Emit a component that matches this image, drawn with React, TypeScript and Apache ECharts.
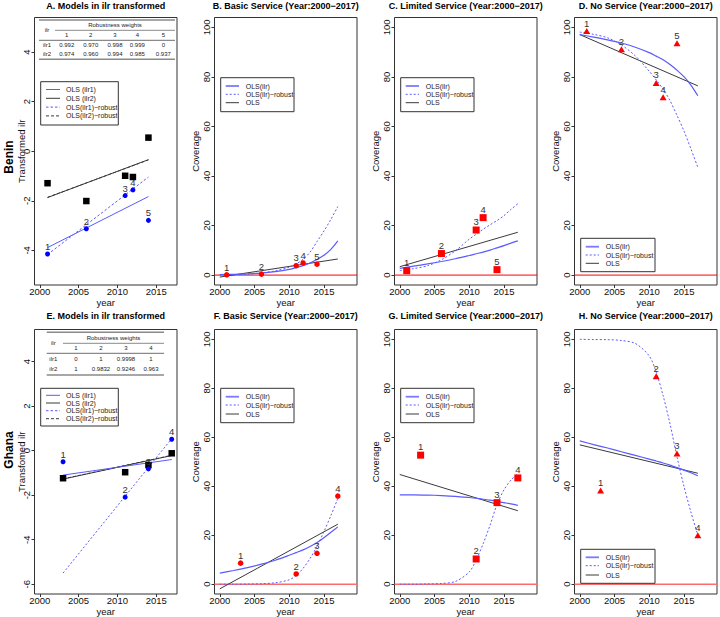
import React, { useEffect, useRef } from "react";
import * as echarts from "echarts";

// ---------------- data ----------------
const beninYears = [2001, 2006, 2011, 2012, 2014];
const ghanaYears = [2003, 2011, 2014, 2017];

const beninIlr1 = [-4.15, -3.13, -1.79, -1.56, -2.79];
const beninIlr2 = [-1.29, -2.01, -0.99, -1.04, 0.55];
const ghanaIlr1 = [-0.5, -2.09, -0.82, 0.51];
const ghanaIlr2 = [-1.24, -0.97, -0.65, -0.12];

const beninBasic = [0.1, 0.4, 3.8, 4.9, 4.4];
const beninLimited = [1.8, 8.7, 18.2, 23.2, 2.2];
const beninNone = [98.5, 91.2, 77.6, 71.8, 93.6];
const ghanaBasic = [8.6, 4.2, 12.6, 36.0];
const ghanaLimited = [52.7, 10.3, 33.3, 43.4];
const ghanaNone = [38.3, 84.9, 53.4, 20.0];

// fitted lines in ilr space (endpoints)
const beninFitYears = [2001, 2014];
const beninIlr1Ols = [-3.89, -1.83];
const beninIlr1Robust = [-4.17, -1.04];
const beninIlr2Ols = [-1.87, -0.34];
const beninIlr2Robust = [-1.86, -0.35];
const ghanaFitYears = [2003, 2017];
const ghanaIlr1Ols = [-1.1, -0.4];
const ghanaIlr1Robust = [-5.5, 0.54];
const ghanaIlr2Ols = [-1.28, -0.22];
const ghanaIlr2Robust = [-1.27, -0.21];

// back-transformed curves
const curveYears = [2000, 2002, 2004, 2006, 2008, 2010, 2011, 2012, 2013, 2014, 2015, 2016, 2017];
const beninBasicIlr = [0.2, 0.3, 0.5, 0.8, 1.4, 2.3, 3.0, 3.8, 4.9, 6.3, 8.0, 10.4, 13.8];
const beninBasicRobust = [0.1, 0.2, 0.4, 0.9, 1.7, 3.2, 4.5, 6.4, 9.3, 13.5, 17.8, 22.5, 27.7];
const beninLimitedIlr = [2.7, 3.6, 4.5, 5.5, 6.6, 7.9, 8.6, 9.3, 10.1, 11.0, 11.9, 12.9, 13.8];
const beninLimitedRobust = [1.8, 2.6, 3.8, 6.2, 9.8, 14.5, 16.5, 18.5, 20.3, 22.0, 24.0, 26.5, 28.8];
const beninNoneIlr = [97.1, 96.1, 95.0, 93.7, 92.0, 89.8, 88.4, 86.9, 85.0, 82.7, 80.1, 76.7, 72.4];
const beninNoneRobust = [98.1, 97.2, 95.8, 92.9, 88.5, 82.3, 78.8, 75.1, 70.4, 64.5, 58.2, 51.0, 43.5];
const ghanaBasicIlr = [4.5, 5.6, 6.8, 8.2, 9.8, 11.8, 12.9, 14.0, 15.4, 17.0, 19.0, 21.2, 23.4];
const ghanaBasicRobust = [0, 0, 0.05, 0.2, 0.6, 1.8, 3.5, 6.5, 10.5, 15.5, 21.5, 28.0, 35.0];
const ghanaLimitedIlr = [36.5, 36.5, 36.4, 36.2, 35.9, 35.4, 35.1, 34.7, 34.3, 33.8, 33.3, 32.8, 32.2];
const ghanaLimitedRobust = [0, 0, 0.1, 0.3, 1.1, 5.0, 9.9, 16.5, 24.1, 32.5, 38.5, 42.5, 45.0];
const ghanaNoneIlr = [58.5, 57.0, 55.6, 54.1, 52.6, 51.1, 50.3, 49.5, 48.6, 47.6, 46.6, 45.5, 44.3];
const ghanaNoneRobust = [100, 99.9, 99.85, 99.5, 98.3, 93.2, 86.6, 77.0, 65.4, 52.0, 40.0, 29.5, 20.0];

// straight OLS on coverage (endpoints)
const olsYears = [2000, 2017];
const beninBasicOls = [-0.8, 6.5];
const beninLimitedOls = [3.4, 17.3];
const beninNoneOls = [97.1, 76.4];
const ghanaBasicOls = [-1.9, 24.5];
const ghanaLimitedOls = [44.8, 30.0];
const ghanaNoneOls = [56.9, 45.3];

// ticks
const yearTicks = [2000, 2005, 2010, 2015];
const coverageTicks = [0, 20, 40, 60, 80, 100];
const beninIlrTicks = [-4, -2, 0, 2, 4];
const ghanaIlrTicks = [-6, -4, -2, 0, 2, 4];

// robustness weight tables
const beninWeightCols = ["1", "2", "3", "4", "5"];
const beninWeightsIlr1 = ["0.992", "0.970", "0.998", "0.999", "0"];
const beninWeightsIlr2 = ["0.974", "0.960", "0.994", "0.985", "0.937"];
const ghanaWeightCols = ["1", "2", "3", "4"];
const ghanaWeightsIlr1 = ["0", "1", "0.9998", "1"];
const ghanaWeightsIlr2 = ["1", "0.9832", "0.9246", "0.963"];

const titles = [
  "A. Models in ilr transformed",
  "B. Basic Service (Year:2000\u22122017)",
  "C. Limited Service (Year:2000\u22122017)",
  "D. No Service (Year:2000\u22122017)",
  "E. Models in ilr transformed",
  "F. Basic Service (Year:2000\u22122017)",
  "G. Limited Service (Year:2000\u22122017)",
  "H. No Service (Year:2000\u22122017)",
];
const ilrAxisTitles = ["Transformed ilr", "Transfomed ilr"];

// ---------------- layout helpers ----------------
const FONT = '"Liberation Sans", Arial, Helvetica, sans-serif';
const BLUE = "#0000ff";
const BLUE_LINE = "#5a5aff";
const DARK = "#3a3a3a";

function box(i: number) {
  const col = i % 4;
  const row = Math.floor(i / 4);
  return {
    left: 180 * col + 34.5,
    top: row === 0 ? 17.5 : 329.5,
    width: 142.5,
    height: row === 0 ? 267.5 : 266.5,
  };
}

const xRange = (i: number) => (i % 4 === 0 ? [1999.32, 2017.68] : [1999.24, 2019.76]);
const yRange = (i: number) => (i === 0 ? [-5.4, 5.4] : i === 4 ? [-6.44, 5.44] : [-4, 104]);
const yTicks = (i: number) => (i === 0 ? beninIlrTicks : i === 4 ? ghanaIlrTicks : coverageTicks);

const zip = (xs: number[], ys: number[]) => xs.map((x, k) => [x, ys[k]]);

function lineS(idx: number, xs: number[], ys: number[], color: string, width: number, type: any, smooth = false) {
  return {
    type: "line",
    xAxisIndex: idx,
    yAxisIndex: idx,
    data: zip(xs, ys),
    symbol: "none",
    showSymbol: false,
    smooth: smooth ? 0.3 : false,
    lineStyle: { color, width, type },
    silent: true,
    z: 2,
  };
}

function ptsS(idx: number, xs: number[], ys: number[], symbol: string, size: any, color: string, labelled = true) {
  return {
    type: "scatter",
    xAxisIndex: idx,
    yAxisIndex: idx,
    data: zip(xs, ys),
    symbol,
    symbolSize: size,
    itemStyle: { color, opacity: 1 },
    silent: true,
    z: 3,
    label: {
      show: labelled,
      position: "top",
      distance: 0,
      formatter: (p: any) => String(p.dataIndex + 1),
      fontSize: 9.5,
      color: "#333",
      fontFamily: FONT,
    },
  };
}

function zeroS(idx: number, color: string, width: number) {
  const xr = xRange(idx);
  return {
    type: "line",
    xAxisIndex: idx,
    yAxisIndex: idx,
    data: [[xr[0], 0], [xr[1], 0]],
    symbol: "none",
    showSymbol: false,
    lineStyle: { color, width, type: "solid" },
    silent: true,
    z: 1,
  };
}

function txt(x: number, y: number, text: string, size: number, opts: any = {}) {
  return {
    type: "text",
    x,
    y,
    rotation: opts.rotation || 0,
    silent: true,
    z: 100,
    style: {
      text,
      fill: opts.color || "#000",
      fontSize: size,
      fontWeight: opts.bold ? "bold" : "normal",
      fontFamily: FONT,
      align: opts.align || "center",
      verticalAlign: "middle",
      textAlign: opts.align || "center",
      textVerticalAlign: "middle",
    },
  };
}

function seg(x1: number, y1: number, x2: number, y2: number, stroke: string, lineWidth: number, dash?: number[]) {
  return {
    type: "line",
    silent: true,
    z: 100,
    shape: { x1, y1, x2, y2 },
    style: { stroke, lineWidth, lineDash: dash || null },
  };
}

type LegItem = { label: string; color: string; width: number; dash?: number[] };

function legend(x: number, y: number, w: number, h: number, rows: number[], lx1: number, lx2: number, tx: number, items: LegItem[]) {
  const els: any[] = [
    {
      type: "rect",
      silent: true,
      z: 99,
      shape: { x, y, width: w, height: h },
      style: { fill: "#fff", stroke: "#333", lineWidth: 1 },
    },
  ];
  items.forEach((it, k) => {
    els.push(seg(lx1, rows[k], lx2, rows[k], it.color, it.width, it.dash));
    els.push(txt(tx, rows[k], it.label, 7, { align: "left", color: "#222" }));
  });
  return els;
}

function table(
  x1: number,
  x2: number,
  hx1: number,
  ys: { top: number; head: number; mid: number; cols: number; rule: number; r1: number; r2: number; bottom: number },
  labelX: number,
  colX: number[],
  cols: string[],
  w1: string[],
  w2: string[]
) {
  const RULE = "#8a8a8a";
  const els: any[] = [
    seg(x1, ys.top, x2, ys.top, RULE, 1.5),
    seg(hx1, ys.mid, x2, ys.mid, RULE, 1),
    seg(x1, ys.rule, x2, ys.rule, RULE, 1.2),
    seg(x1, ys.bottom, x2, ys.bottom, RULE, 1.5),
    txt((hx1 + x2) / 2, ys.head, "Robustness weights", 6, { color: "#222" }),
    txt(labelX, (ys.head + ys.cols) / 2, "ilr", 6, { color: "#222" }),
    txt(labelX, ys.r1, "ilr1", 6, { color: "#222" }),
    txt(labelX, ys.r2, "ilr2", 6, { color: "#222" }),
  ];
  cols.forEach((c, k) => {
    els.push(txt(colX[k], ys.cols, c, 6, { color: "#222" }));
    els.push(txt(colX[k], ys.r1, w1[k], 6, { color: "#222" }));
    els.push(txt(colX[k], ys.r2, w2[k], 6, { color: "#222" }));
  });
  return els;
}

function yAxisDef(i: number) {
  const ax: any = {
    type: "value",
    gridIndex: i,
    position: "left",
    min: yRange(i)[0],
    max: yRange(i)[1],
    axisLine: { show: false, onZero: false },
    splitLine: { show: false },
    axisTick: { show: true, inside: false, length: 3, customValues: yTicks(i), lineStyle: { color: "#333" } },
    axisLabel: {
      show: true,
      customValues: yTicks(i),
      rotate: 90,
      margin: 3,
      fontSize: 9.5,
      color: "#111",
      fontFamily: FONT,
      hideOverlap: false,
      formatter: (v: number) => String(Math.round(v)),
    },
    name: i === 0 ? ilrAxisTitles[0] : i === 4 ? ilrAxisTitles[1] : "Coverage",
    nameLocation: "middle",
    nameRotate: 90,
    nameGap: i % 4 === 0 ? 8.5 : 14,
    nameMoveOverlap: false,
    nameTextStyle: { fontSize: 9.5, color: "#111", fontFamily: FONT },
  };
  return ax;
}

// ---------------- component ----------------
export default function App() {
  const ref = useRef<HTMLDivElement>(null);

  useEffect(() => {
    if (!ref.current) return;
    const chart = echarts.init(ref.current, undefined, { renderer: "svg" });

    const idxs = [0, 1, 2, 3, 4, 5, 6, 7];
    const grid = idxs.map((i) => ({
      ...box(i),
      show: true,
      borderColor: "#333",
      borderWidth: 1,
      backgroundColor: "transparent",
      containLabel: false,
    }));

    const xAxis = idxs.map((i) => ({
      type: "value",
      gridIndex: i,
      position: "bottom",
      min: xRange(i)[0],
      max: xRange(i)[1],
      name: "year",
      nameLocation: "middle",
      nameGap: 12,
      nameMoveOverlap: false,
      nameTextStyle: { fontSize: 9.5, color: "#111", fontFamily: FONT },
      axisLine: { show: false, onZero: false },
      splitLine: { show: false },
      axisTick: { show: true, inside: false, length: 3, customValues: yearTicks, lineStyle: { color: "#333" } },
      axisLabel: {
        show: true,
        customValues: yearTicks,
        margin: 1.5,
        fontSize: 9.5,
        color: "#111",
        fontFamily: FONT,
        formatter: (v: number) => String(Math.round(v)),
      },
    }));

    const yAxis = idxs.map((i) => yAxisDef(i));

    const series: any[] = [
      // A
      lineS(0, beninFitYears, beninIlr2Ols, DARK, 1, "solid"),
      lineS(0, beninFitYears, beninIlr2Robust, DARK, 1, [3, 2]),
      lineS(0, beninFitYears, beninIlr1Ols, BLUE_LINE, 1, "solid"),
      lineS(0, beninFitYears, beninIlr1Robust, BLUE_LINE, 1, [2.5, 2]),
      ptsS(0, beninYears, beninIlr2, "rect", 6.5, "#000", false),
      ptsS(0, beninYears, beninIlr1, "circle", 5, BLUE),
      // B
      zeroS(1, "#ff0000", 1),
      lineS(1, olsYears, beninBasicOls, DARK, 1, "solid"),
      lineS(1, curveYears, beninBasicIlr, BLUE_LINE, 1.2, "solid", true),
      lineS(1, curveYears, beninBasicRobust, BLUE_LINE, 1, [2, 2], true),
      ptsS(1, beninYears, beninBasic, "circle", 5.5, "#ff0000"),
      // C
      zeroS(2, "#ff0000", 1),
      lineS(2, olsYears, beninLimitedOls, DARK, 1, "solid"),
      lineS(2, curveYears, beninLimitedIlr, BLUE_LINE, 1.2, "solid", true),
      lineS(2, curveYears, beninLimitedRobust, BLUE_LINE, 1, [2, 2], true),
      ptsS(2, beninYears, beninLimited, "rect", 7, "#ff0000"),
      // D
      zeroS(3, "#ff0000", 1),
      lineS(3, olsYears, beninNoneOls, DARK, 1, "solid"),
      lineS(3, curveYears, beninNoneIlr, BLUE_LINE, 1.2, "solid", true),
      lineS(3, curveYears, beninNoneRobust, BLUE_LINE, 1, [2, 2], true),
      ptsS(3, beninYears, beninNone, "triangle", [7, 6], "#ff0000"),
      // E
      lineS(4, ghanaFitYears, ghanaIlr2Ols, DARK, 1, "solid"),
      lineS(4, ghanaFitYears, ghanaIlr2Robust, DARK, 1, [3, 2]),
      lineS(4, ghanaFitYears, ghanaIlr1Ols, BLUE_LINE, 1, "solid"),
      lineS(4, ghanaFitYears, ghanaIlr1Robust, BLUE_LINE, 1, [2, 2]),
      ptsS(4, ghanaYears, ghanaIlr2, "rect", 6.5, "#000", false),
      ptsS(4, ghanaYears, ghanaIlr1, "circle", 5, BLUE),
      // F
      zeroS(5, "#ff6a6a", 1.5),
      lineS(5, olsYears, ghanaBasicOls, DARK, 1, "solid"),
      lineS(5, curveYears, ghanaBasicIlr, BLUE_LINE, 1.2, "solid", true),
      lineS(5, curveYears, ghanaBasicRobust, BLUE_LINE, 1, [2, 2], true),
      ptsS(5, ghanaYears, ghanaBasic, "circle", 5.5, "#ff0000"),
      // G
      zeroS(6, "#ff6a6a", 1.5),
      lineS(6, olsYears, ghanaLimitedOls, DARK, 1, "solid"),
      lineS(6, curveYears, ghanaLimitedIlr, BLUE_LINE, 1.2, "solid", true),
      lineS(6, curveYears, ghanaLimitedRobust, BLUE_LINE, 1, [2, 2], true),
      ptsS(6, ghanaYears, ghanaLimited, "rect", 7, "#ff0000"),
      // H
      zeroS(7, "#ff6a6a", 1.5),
      lineS(7, olsYears, ghanaNoneOls, DARK, 1, "solid"),
      lineS(7, curveYears, ghanaNoneIlr, BLUE_LINE, 1.2, "solid", true),
      lineS(7, curveYears, ghanaNoneRobust, BLUE_LINE, 1, [2, 2], true),
      ptsS(7, ghanaYears, ghanaNone, "triangle", [7, 6], "#ff0000"),
    ];

    const graphics: any[] = [];
    // titles
    idxs.forEach((i) => {
      const b = box(i);
      const y = i < 4 ? 6 : 316;
      graphics.push(txt(b.left + b.width / 2, y, titles[i], 9, { bold: true }));
    });
    // country labels
    graphics.push(txt(9, 157, "Benin", 12, { bold: true, rotation: Math.PI / 2 }));
    graphics.push(txt(9, 450, "Ghana", 12, { bold: true, rotation: Math.PI / 2 }));

    // tables
    graphics.push(
      ...table(
        39,
        175,
        55,
        { top: 20, head: 25, mid: 30.3, cols: 35.3, rule: 40.3, r1: 45, r2: 54, bottom: 59.3 },
        47,
        [66.7, 90.7, 115, 137.3, 163.3],
        beninWeightCols,
        beninWeightsIlr1,
        beninWeightsIlr2
      )
    );
    graphics.push(
      ...table(
        46.7,
        164,
        63,
        { top: 332.3, head: 338.3, mid: 343.3, cols: 348.3, rule: 353.3, r1: 359.3, r2: 369.3, bottom: 375 },
        53.3,
        [76, 101, 126, 151],
        ghanaWeightCols,
        ghanaWeightsIlr1,
        ghanaWeightsIlr2
      )
    );

    // legends
    const ilrItems: LegItem[] = [
      { label: "OLS (ilr1)", color: BLUE_LINE, width: 1 },
      { label: "OLS (ilr2)", color: DARK, width: 1 },
      { label: "OLS(ilr1)\u2212robust", color: BLUE_LINE, width: 1, dash: [2.5, 2] },
      { label: "OLS(ilr2)\u2212robust", color: DARK, width: 1, dash: [3, 2] },
    ];
    const covItems: LegItem[] = [
      { label: "OLS(ilr)", color: "#7b7bff", width: 1.8 },
      { label: "OLS(ilr)\u2212robust", color: BLUE_LINE, width: 1, dash: [2, 2] },
      { label: "OLS", color: DARK, width: 1 },
    ];
    graphics.push(...legend(40.7, 81.7, 77.6, 43.3, [89.5, 98.3, 107.1, 115.9], 46, 60, 66, ilrItems));
    graphics.push(...legend(40.7, 388.3, 77.6, 37.7, [395.3, 403, 410.7, 418.7], 46, 60, 66, ilrItems));
    graphics.push(...legend(220.7, 77.7, 73.3, 34, [86, 94.3, 102.7], 225.7, 239, 245.7, covItems));
    graphics.push(...legend(400.7, 77.7, 73.3, 34, [86, 94.3, 102.7], 405.7, 419, 425.7, covItems));
    graphics.push(...legend(580.7, 238.3, 74.3, 33.4, [246.7, 255, 263.3], 585.7, 599, 605.7, covItems));
    graphics.push(...legend(220.7, 388.3, 73.3, 34.4, [396.7, 405, 414], 225.7, 239, 245.7, covItems));
    graphics.push(...legend(400.7, 388.3, 73.3, 34.4, [396.7, 405, 414], 405.7, 419, 425.7, covItems));
    graphics.push(...legend(580.7, 549.3, 74.3, 34, [557.3, 565.7, 575], 585.7, 599, 605.7, covItems));

    chart.setOption({
      animation: false,
      backgroundColor: "#fff",
      textStyle: { fontFamily: FONT },
      grid,
      xAxis,
      yAxis,
      series,
      graphic: { elements: graphics },
    });

    return () => chart.dispose();
  }, []);

  return (
    <div
      ref={ref}
      style={{ position: "fixed", left: 0, top: 0, width: 720, height: 617, background: "#fff" }}
    />
  );
}
